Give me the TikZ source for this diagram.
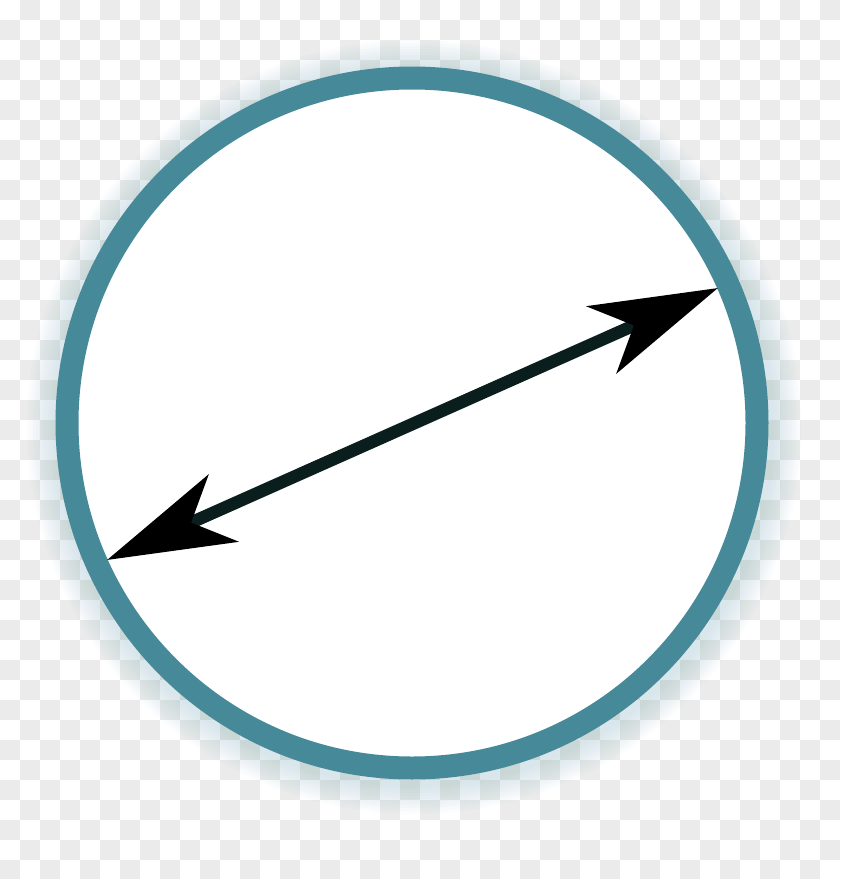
\documentclass[tikz,border=0pt]{standalone}
\usepackage{tikz}
\usetikzlibrary{arrows.meta}
\definecolor{ringteal}{RGB}{70,138,154}
\definecolor{shaftdark}{RGB}{10,30,30}
\definecolor{checkgray}{RGB}{235,235,235}

\begin{document}
\begin{tikzpicture}[x=0.02cm,y=-0.02cm]
  \useasboundingbox (0,0) rectangle (840,879);
  \fill[white] (0,0) rectangle (840,879);
  \foreach \i in {0,40,...,800}
    \foreach \j in {0,40,...,840}{
      \fill[checkgray] (\i+20,\j) rectangle ++(20,20);
      \fill[checkgray] (\i,\j+20) rectangle ++(20,20);
    }
  % glow
  \foreach \k in {1,...,10}
    \fill[ringteal,opacity=0.02] (414,427) circle[radius=357+3*\k];
  \draw[ringteal,line width=0.46cm,fill=white] (412,423) circle[radius=345];
  \coordinate (west) at (107,560);
  \coordinate (east) at (718,288);
  \draw[shaftdark,line width=0.25cm,
        {Stealth[black,length=2.54cm,width=1.46cm,inset=0.7cm]}-{Stealth[black,length=2.54cm,width=1.46cm,inset=0.7cm]}]
    (west) -- (east);
\end{tikzpicture}
\end{document}
